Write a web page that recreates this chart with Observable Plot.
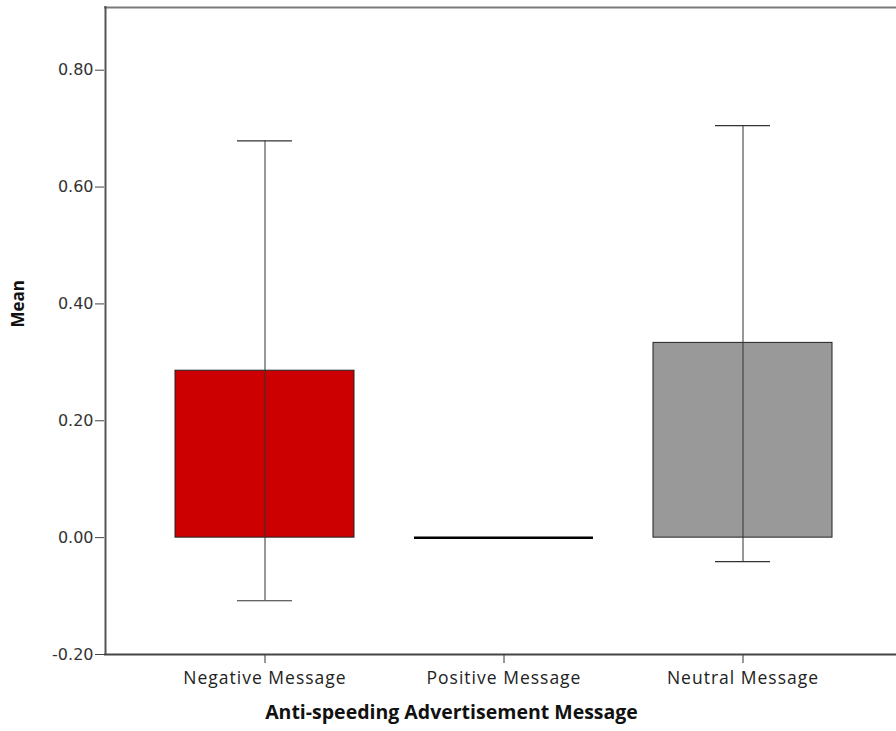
<!DOCTYPE html>
<html>
<head>
<meta charset="utf-8">
<script src="https://cdn.jsdelivr.net/npm/d3@7"></script>
<script src="https://cdn.jsdelivr.net/npm/@observablehq/plot@0.6"></script>
<style>
  body { margin: 0; background: #fff; }
  svg { display: block; }
  g[aria-label="x-axis tick label"] text { letter-spacing: 1px; }
</style>
</head>
<body>
<div id="chart"></div>
<script>
const categories = ["Negative Message", "Positive Message", "Neutral Message"];
const means = [0.2857, 0.0, 0.3333];
const lower = [-0.108, 0.0, -0.041];
const upper = [0.679, 0.0, 0.705];
const colors = ["#cc0000", "#ffffff", "#9a999a"];
const yTicks = [-0.2, 0, 0.2, 0.4, 0.6, 0.8];
const yMin = -0.2, yMax = 0.909;
const xTitle = "Anti-speeding Advertisement Message";
const yTitle = "Mean";

const data = categories.map((c, i) => ({cat: c, mean: means[i], lo: lower[i], hi: upper[i], color: colors[i]}));
const withBar = data.filter(d => d.mean !== 0);
const withErr = data.filter(d => d.hi !== d.lo);
const zeroBars = data.filter(d => d.mean === 0);

const chart = Plot.plot({
  width: 896,
  height: 731,
  marginLeft: 104,
  marginRight: 0,
  marginTop: 6,
  marginBottom: 77,
  style: {fontFamily: "'Open Sans', sans-serif", background: "#fff"},
  x: {domain: categories, range: [104, 904], paddingInner: 0.25, paddingOuter: 0.2917, axis: null},
  y: {domain: [yMin, yMax], axis: null},
  marks: [
    Plot.ruleY([yMax], {stroke: "#7a7a7a", strokeWidth: 2, dy: 1}),
    Plot.barY(withBar, {x: "cat", y: "mean", fill: "color", stroke: "#222", strokeWidth: 1}),
    Plot.tickY(zeroBars, {x: "cat", y: "mean", stroke: "#000", strokeWidth: 2.5}),
    Plot.ruleX(withErr, {x: "cat", y1: "lo", y2: "hi", stroke: "#333", strokeWidth: 1}),
    Plot.tickY(withErr, {x: "cat", y: "hi", stroke: "#333", strokeWidth: 1.2, insetLeft: 62, insetRight: 62}),
    Plot.tickY(withErr, {x: "cat", y: "lo", stroke: "#333", strokeWidth: 1.2, insetLeft: 62, insetRight: 62}),
    Plot.axisY(yTicks, {tickSize: 9, tickFormat: d => d.toFixed(2), stroke: "#444", fill: "#333", fontSize: 16, fontFamily: "'DejaVu Sans', sans-serif", tickPadding: 2, label: null}),
    Plot.axisX({tickSize: 9, stroke: "#333", fill: "#222", fontSize: 17.5, tickPadding: 8, label: null}),
    Plot.ruleY([yMin], {stroke: "#444", strokeWidth: 2}),
    Plot.ruleX([categories[0]], {x: d => d, dx: -159.5, y1: yMin, y2: yMax, stroke: "#555", strokeWidth: 2}),
    Plot.text([yTitle], {frameAnchor: "left", dx: -86, dy: -3, rotate: -90, fontWeight: "bold", fontSize: 17, fill: "#111"}),
    Plot.text([xTitle], {frameAnchor: "bottom", dx: -49, dy: 64, fontWeight: "bold", fontSize: 19.5, fill: "#111"})
  ]
});
document.getElementById("chart").appendChild(chart);
</script>
</body>
</html>
